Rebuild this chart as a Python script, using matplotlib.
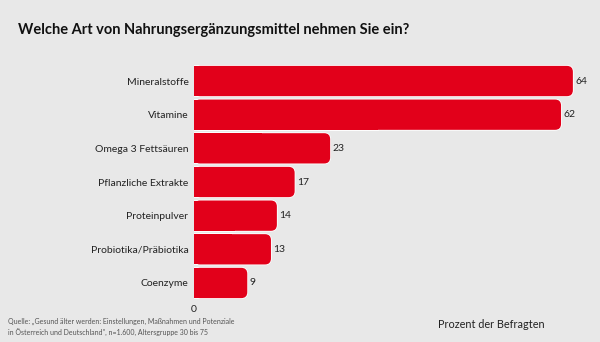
import matplotlib
matplotlib.use("Agg")
import matplotlib.pyplot as plt
from matplotlib.patches import FancyBboxPatch

categories = ["Mineralstoffe", "Vitamine", "Omega 3 Fettsäuren", "Pflanzliche Extrakte",
              "Proteinpulver", "Probiotika/Präbiotika", "Coenzyme"]
values = [64, 62, 23, 17, 14, 13, 9]

BG = "#e8e8e8"
RED = "#e2001a"
FONT = ["Lato", "DejaVu Sans"]

W, H = 600, 342
fig = plt.figure(figsize=(W / 100, H / 100), dpi=100, facecolor=BG)

# axes in pixel coords: left 194, top 64, bottom 300, right 600
x0, x1, y0, y1 = 194, 600, 64.2, 299.8
ax = fig.add_axes([x0 / W, 1 - y1 / H, (x1 - x0) / W, (y1 - y0) / H])
ax.set_facecolor(BG)
xmax = (x1 - x0) / 5.92
ax.set_xlim(0, xmax)
ax.set_ylim(len(values) - 0.5, -0.5)

bh = 0.9
px_x = xmax / (x1 - x0)
px_y = len(values) / (y1 - y0)
aspect = px_y / px_x
rad = 6 * px_x


def rounded_bar(i, v, fc, ec, lw, z):
    # rounded right end, square left end
    ax.add_patch(FancyBboxPatch((0, i - bh / 2), v, bh,
                                boxstyle=f"round,pad=0,rounding_size={rad}",
                                mutation_aspect=aspect, facecolor=fc,
                                edgecolor=ec, linewidth=lw, zorder=z))
    ax.barh(i, v / 2, height=bh, color=fc, edgecolor=ec, linewidth=lw, zorder=z)


for i, v in enumerate(values):
    rounded_bar(i, v, "white", "white", 1.2, 1)   # thin white halo
    rounded_bar(i, v, RED, "none", 0, 2)
    ax.text(v + 0.4, i, str(v), va="center", ha="left", fontsize=7.5,
            color="#222222", family=FONT)

ax.set_yticks(range(len(categories)))
ax.set_yticklabels(categories, fontsize=7.5, color="#222222", family=FONT)
ax.set_xticks([0])
ax.set_xticklabels(["0"], fontsize=7.5, color="#222222", family=FONT)
ax.tick_params(length=0, pad=4)
for s in ax.spines.values():
    s.set_visible(False)

fig.text(18 / W, 1 - 30 / H, "Welche Art von Nahrungsergänzungsmittel nehmen Sie ein?",
         fontsize=10.5, fontweight="bold", color="#111111", va="center", family=FONT)
fig.text(438 / W, 1 - 325 / H, "Prozent der Befragten", fontsize=7.8, color="#222222",
         va="center", family=FONT)
fig.text(8 / W, 1 - 327 / H,
         "Quelle: „Gesund älter werden: Einstellungen, Maßnahmen und Potenziale\n"
         "in Österreich und Deutschland\", n=1.600, Altersgruppe 30 bis 75",
         fontsize=5, color="#555555", va="center", family=FONT, linespacing=1.4)

fig.savefig("out.png", dpi=100, facecolor=BG)
